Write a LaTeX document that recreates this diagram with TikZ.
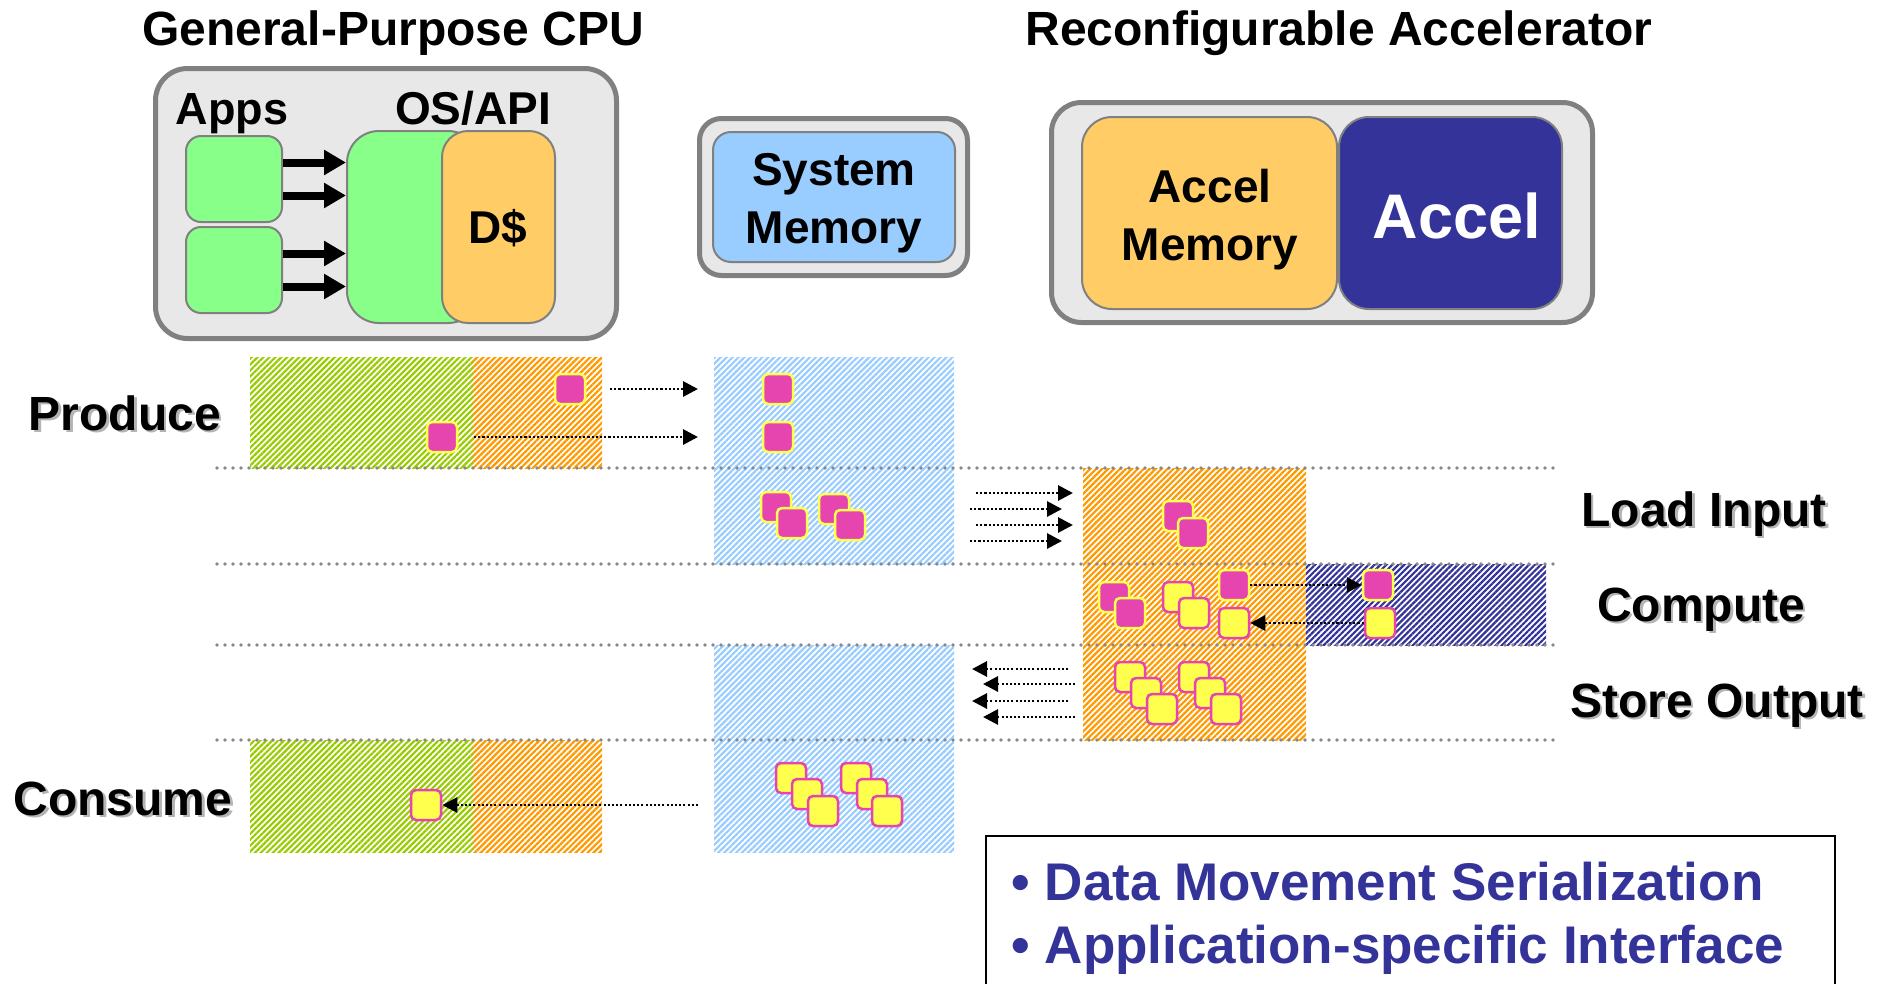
\documentclass[tikz,border=0pt]{standalone}
\usepackage{fontspec}
\setmainfont{Liberation Sans}
\usetikzlibrary{arrows.meta,patterns.meta,fit}

\definecolor{boxgray}{HTML}{E8E8E8}
\definecolor{edgegray}{HTML}{808080}
\definecolor{appgreen}{HTML}{88FF88}
\definecolor{cacheorange}{HTML}{FFCC66}
\definecolor{memblue}{HTML}{99CCFF}
\definecolor{accnavy}{HTML}{333399}
\definecolor{hgreen}{HTML}{99CC00}
\definecolor{horange}{HTML}{FF9900}
\definecolor{hblue}{HTML}{99CCFF}
\definecolor{dmag}{HTML}{E645B0}
\definecolor{dyel}{HTML}{FFFF4D}
\definecolor{dotgray}{HTML}{888888}
\definecolor{shade}{HTML}{B4B4B4}

\newcommand\setfs[1]{\fontsize{#1}{#1}\selectfont\bfseries}
\newcommand\setfsl[2]{\fontsize{#1}{#2}\selectfont\bfseries}

\begin{document}
\begin{tikzpicture}[x=1pt,y=-1pt,
  outerbox/.style={draw=edgegray, line width=5pt, fill=boxgray, rounded corners=#1, inner sep=0pt},
  innerbox/.style={draw=edgegray, line width=2pt, rounded corners=#1, inner sep=0pt},
  title/.style={anchor=base, font=\setfs{48}},
  lbl/.style={anchor=base, font=\setfs{48}},
  hatch/.style={pattern={Lines[angle=45,distance=4.2pt,line width=2.2pt]}, pattern color=#1},
  sqm/.style={rectangle, rounded corners=5pt, minimum size=30pt, inner sep=0pt,
              fill=dmag, draw=dyel, line width=2.5pt},
  sqy/.style={rectangle, rounded corners=5pt, minimum size=30pt, inner sep=0pt,
              fill=dyel, draw=dmag, line width=2.5pt},
  bigarrow/.style={black, line width=8pt, -{Triangle[length=22pt,width=24pt]}},
  darrow/.style={black, line width=2.9pt, dash pattern=on 2.1pt off 2.1pt,
                 -{Triangle[length=15pt,width=15pt]}},
  separator/.style={dotgray, line width=3.7pt, line cap=round, dash pattern=on 0pt off 8pt},
  bullets/.style={anchor=base west, text=accnavy, font=\setfs{53}}
]
\useasboundingbox (0,0) rectangle (1887,983);
\fill[white] (0,0) rectangle (1887,983);

% ---- headings ----
\node[title] (cputitle) at (393,45) {General-Purpose CPU};
\node[title] (acctitle) at (1339,45) {Reconfigurable Accelerator};

% ---- general-purpose CPU ----
\node[outerbox=32pt, fit={(155.5,68.5) (616.5,338.5)}] (cpu) {};
\node[anchor=base, font=\setfs{45}] (apps) at (232,124) {Apps};
\node[anchor=base, font=\setfs{46}] (osapi) at (473,124) {OS/API};
\node[innerbox=15pt, fill=appgreen, fit={(186,136) (282,222)}] (app1) {};
\node[innerbox=15pt, fill=appgreen, fit={(186,227) (282,313)}] (app2) {};
\node[innerbox=32pt, fill=appgreen, fit={(347,131) (480,323)}] (os) {};
\node[innerbox=26pt, fill=cacheorange, fit={(442,131) (555,323)}] (dcache) {};
\node[anchor=base, font=\setfs{46}] (dlabel) at (498,243) {D\$};
\foreach \a in {app1,app2}{
  \draw[bigarrow] ([yshift=16.5pt]\a.east) -- ([yshift=16.5pt]\a.east -| os.west);
  \draw[bigarrow] ([yshift=-16.5pt]\a.east) -- ([yshift=-16.5pt]\a.east -| os.west);
}

% ---- system memory ----
\node[outerbox=22pt, fit={(699.5,118.5) (967.5,275.5)}] (smouter) {};
\node[innerbox=18pt, fill=memblue, fit={(713,132) (955,262)}] (sysmem) {};
\node[align=center, inner sep=0pt, font=\setfsl{46}{58}] (smlabel) at (834,203) {System\\Memory};

% ---- reconfigurable accelerator ----
\node[outerbox=30pt, fit={(1051.5,102.5) (1592.5,322.5)}] (accouter) {};
\node[innerbox=30pt, fill=cacheorange, fit={(1082,117) (1337,309)}] (accmem) {};
\node[innerbox=30pt, fill=accnavy, fit={(1339,117) (1562,309)}] (accel) {};
\node[align=center, inner sep=0pt, font=\setfsl{46}{58}] (amlabel) at (1210,220) {Accel\\Memory};
\node[anchor=base, text=white, font=\setfs{63}] (acclabel) at (1457,238) {Accel};

% ---- timeline: hatched activity blocks ----
\path[hatch=hgreen]  (250,357) rectangle (473,468);
\path[hatch=horange] (473,357) rectangle (602,468);
\path[hatch=hblue]   (714,357) rectangle (954,564);
\path[hatch=horange] (1083,468) rectangle (1306,740);
\path[hatch=accnavy] (1306,564) rectangle (1546,645);
\path[hatch=hblue]   (714,645) rectangle (954,852);
\path[hatch=hgreen]  (250,740) rectangle (473,852);
\path[hatch=horange] (473,740) rectangle (602,852);

% ---- phase separators ----
\foreach \yy in {468,564,645,740}
  \draw[separator] (217,\yy) -- (1556,\yy);

% ---- phase labels ----
\node[lbl, text=shade] (produceS) at (127.5,432.5) {Produce};
\node[lbl] (produce) at (125,430) {Produce};
\node[lbl, text=shade] (loadS) at (1706.5,528.5) {Load Input};
\node[lbl] (load) at (1704,526) {Load Input};
\node[lbl, text=shade] (computeS) at (1703.5,623.5) {Compute};
\node[lbl] (compute) at (1701,621) {Compute};
\node[lbl, text=shade] (storeS) at (1719.5,719.5) {Store Output};
\node[lbl] (store) at (1717,717) {Store Output};
\node[lbl, text=shade] (consumeS) at (125.5,817.5) {Consume};
\node[lbl] (consume) at (123,815) {Consume};

% ---- produce ----
\node[sqm] (pM1) at (570,389) {};
\node[sqm] (pM2) at (442,437) {};
\node[sqm] (pM3) at (778,389) {};
\node[sqm] (pM4) at (778,437) {};
\coordinate (p1a) at (610,389);  \coordinate (p1b) at (698,389);
\coordinate (p2a) at (474,437);  \coordinate (p2b) at (698,437);
\draw[darrow] (p1a) -- (p1b);
\draw[darrow] (p2a) -- (p2b);

% ---- load input ----
\node[sqm] (lM1) at (776,507) {};
\node[sqm] (lM2) at (792,523) {};
\node[sqm] (lM3) at (834,509) {};
\node[sqm] (lM4) at (850,525) {};
\node[sqm] (lM5) at (1178,516) {};
\node[sqm] (lM6) at (1193,533) {};
\coordinate (l1a) at (976,493);  \coordinate (l1b) at (1073,493);
\coordinate (l2a) at (970,509);  \coordinate (l2b) at (1062,509);
\coordinate (l3a) at (976,525);  \coordinate (l3b) at (1073,525);
\coordinate (l4a) at (970,541);  \coordinate (l4b) at (1062,541);
\draw[darrow] (l1a) -- (l1b);
\draw[darrow] (l2a) -- (l2b);
\draw[darrow] (l3a) -- (l3b);
\draw[darrow] (l4a) -- (l4b);

% ---- compute ----
\node[sqm] (cM1) at (1114,597) {};
\node[sqm] (cM2) at (1130,613) {};
\node[sqy] (cY1) at (1178,597) {};
\node[sqy] (cY2) at (1194,613) {};
\node[sqm] (cM3) at (1234,585) {};
\node[sqy] (cY3) at (1234,623) {};
\node[sqm] (aM) at (1378,585) {};
\node[sqy] (aY) at (1380,623) {};
\draw[darrow] (cM3.east) -- (aM.west);
\draw[darrow] (aY.west) -- (cY3.east);

% ---- store output ----
\node[sqy] (sY1) at (1130,677) {};
\node[sqy] (sY2) at (1146,693) {};
\node[sqy] (sY3) at (1162,709) {};
\node[sqy] (sY4) at (1194,677) {};
\node[sqy] (sY5) at (1210,693) {};
\node[sqy] (sY6) at (1226,709) {};
\coordinate (s1a) at (1068,669);  \coordinate (s1b) at (972,669);
\coordinate (s2a) at (1075,684);  \coordinate (s2b) at (983,684);
\coordinate (s3a) at (1068,701);  \coordinate (s3b) at (972,701);
\coordinate (s4a) at (1075,717);  \coordinate (s4b) at (983,717);
\draw[darrow] (s1a) -- (s1b);
\draw[darrow] (s2a) -- (s2b);
\draw[darrow] (s3a) -- (s3b);
\draw[darrow] (s4a) -- (s4b);

% ---- consume ----
\node[sqy] (kY1) at (791,778) {};
\node[sqy] (kY2) at (807,794) {};
\node[sqy] (kY3) at (823,811) {};
\node[sqy] (kY4) at (856,778) {};
\node[sqy] (kY5) at (872,794) {};
\node[sqy] (kY6) at (887,811) {};
\node[sqy] (kY0) at (426,805) {};
\coordinate (k1a) at (698,805);
\draw[darrow] (k1a) -- (kY0.east);

% ---- summary box ----
\draw[line width=2.5pt] (986,995) |- (1835,836) -- (1835,995);
\node[bullets] (bul1) at (1008,900) {• Data Movement Serialization};
\node[bullets] (bul2) at (1008,963) {• Application-specific Interface};
\end{tikzpicture}
\end{document}
